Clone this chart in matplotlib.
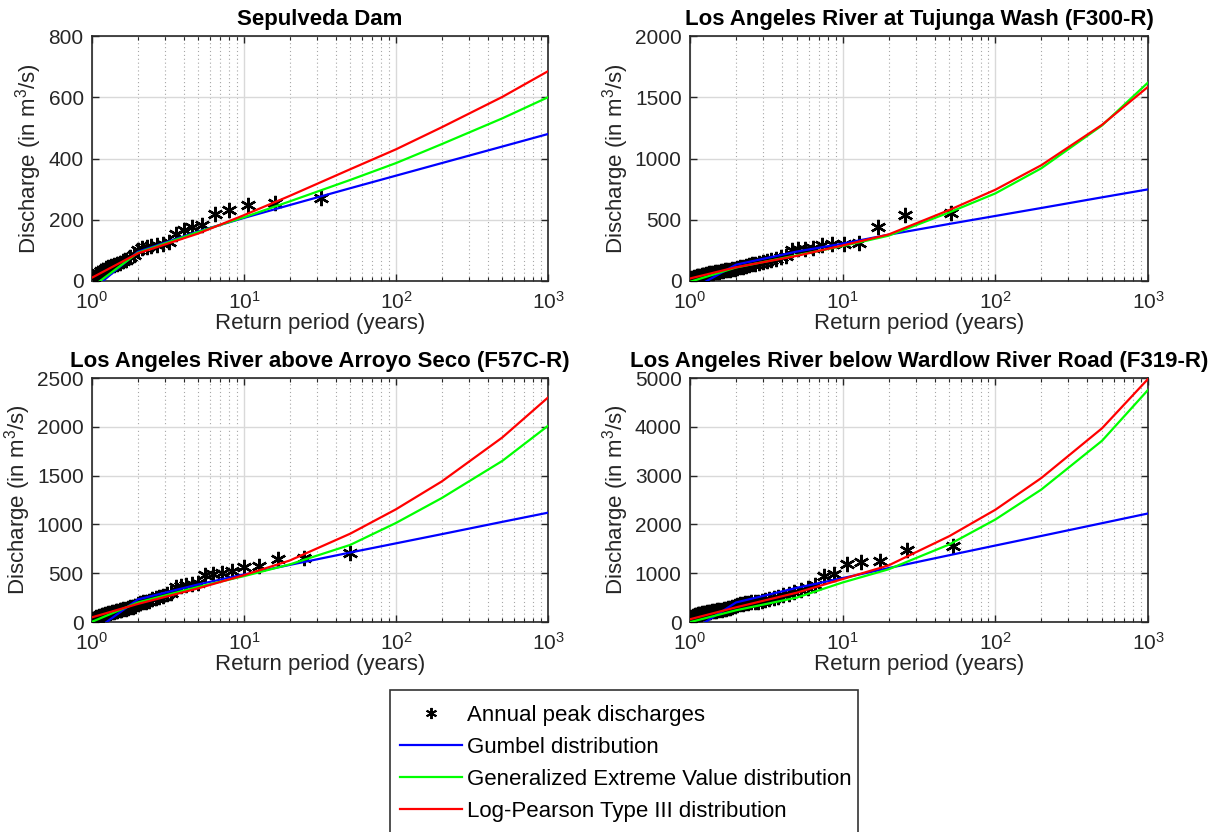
import matplotlib
matplotlib.use("Agg")
import matplotlib.pyplot as plt
from matplotlib.lines import Line2D
from matplotlib.patches import Rectangle
from matplotlib.ticker import LogLocator, FixedLocator, NullFormatter

plt.rcParams['font.family'] = ['Liberation Sans', 'DejaVu Sans']
plt.rcParams['mathtext.fontset'] = 'custom'
plt.rcParams['mathtext.rm'] = 'Liberation Sans'
plt.rcParams['mathtext.it'] = 'Liberation Sans:italic'

# return periods at which the fitted distributions are drawn
T_fit = [1.01, 2, 5, 10, 20, 50, 100, 200, 500, 1000]

# ---- Sepulveda Dam
sep_T = [32.0, 16.0, 10.67, 8.0, 6.4, 5.33, 4.57, 4.0, 3.56, 3.2, 2.91, 2.67, 2.46, 2.29, 2.13, 2.0,
         1.88, 1.78, 1.68, 1.6, 1.52, 1.45, 1.39, 1.33, 1.28, 1.23, 1.19, 1.14, 1.1, 1.07, 1.03]
sep_Q = [272, 256, 249, 231, 220, 184, 176, 168, 152, 128, 122, 118, 115, 112, 108, 100,
         86, 78, 70, 64, 59, 56, 52, 49, 45, 42, 37, 32, 26, 20, 14]
sep_gum = [-28, 95, 162, 206, 248, 303, 344, 385, 439, 480]
sep_gev = [-18, 92, 160, 208, 260, 330, 385, 447, 531, 600]
sep_lp3 = [12, 90, 155, 215, 278, 365, 430, 502, 601, 685]

# ---- Los Angeles River at Tujunga Wash (F300-R)
tuj_T = [51, 25.5, 17, 12.75, 10.2, 8.5, 7.29, 6.38, 5.67, 5.1, 4.64, 4.25, 3.92, 3.64, 3.4, 3.19, 3.0,
         2.83, 2.68, 2.55, 2.43, 2.32, 2.22, 2.13, 2.04, 1.96, 1.89, 1.82, 1.76, 1.7, 1.65, 1.59, 1.55,
         1.5, 1.46, 1.42, 1.38, 1.34, 1.31, 1.28, 1.24, 1.21, 1.19, 1.16, 1.13, 1.11, 1.09, 1.06, 1.04, 1.02]
tuj_Q = [558, 537, 444, 310, 300, 298, 290, 270, 262, 258, 250, 205, 192, 182, 172, 163, 156,
         150, 142, 136, 129, 123, 117, 111, 106, 101, 97, 93, 89, 86, 83, 80, 77,
         74, 71, 68, 65, 62, 59, 56, 53, 50, 47, 44, 41, 38, 35, 32, 28, 22]
tuj_gum = [-73, 133, 240, 305, 378, 466, 531, 596, 683, 748]
tuj_gev = [-5, 110, 210, 285, 370, 560, 715, 920, 1270, 1620]
tuj_lp3 = [22, 112, 205, 290, 380, 580, 745, 945, 1275, 1585]

# ---- Los Angeles River above Arroyo Seco (F57C-R)
arr_T = [50, 25, 16.67, 12.5, 10, 8.33, 7.14, 6.25, 5.56, 5.0, 4.55, 4.17, 3.85, 3.57, 3.33, 3.13,
         2.94, 2.78, 2.63, 2.5, 2.38, 2.27, 2.17, 2.08, 2.0, 1.92, 1.85, 1.79, 1.72, 1.67, 1.61, 1.56,
         1.52, 1.47, 1.43, 1.39, 1.35, 1.32, 1.28, 1.25, 1.22, 1.19, 1.16, 1.14, 1.11, 1.09, 1.06, 1.04, 1.02]
arr_Q = [711, 660, 645, 577, 560, 525, 505, 495, 480, 400, 385, 375, 365, 355, 300, 285,
         270, 258, 245, 232, 220, 210, 200, 190, 180, 165, 158, 150, 143, 137, 131, 125,
         120, 114, 109, 104, 99, 94, 89, 84, 79, 74, 70, 65, 60, 55, 49, 43, 35]
arr_gum = [-103, 231, 385, 487, 585, 712, 806, 900, 1026, 1120]
arr_gev = [5, 200, 360, 470, 590, 790, 1015, 1270, 1650, 2010]
arr_lp3 = [50, 185, 345, 480, 630, 905, 1155, 1440, 1890, 2300]

# ---- Los Angeles River below Wardlow River Road (F319-R)
war_T = [53, 26.5, 17.67, 13.25, 10.6, 8.83, 7.57, 6.63, 5.89, 5.3, 4.82, 4.42, 4.08, 3.79, 3.53,
         3.31, 3.12, 2.94, 2.79, 2.65, 2.52, 2.41, 2.3, 2.21, 2.12, 2.04, 1.96, 1.89, 1.83, 1.77,
         1.71, 1.66, 1.61, 1.56, 1.51, 1.47, 1.43, 1.39, 1.36, 1.33, 1.29, 1.26, 1.23, 1.2, 1.18,
         1.15, 1.13, 1.1, 1.08, 1.06, 1.04, 1.02]
war_Q = [1555, 1470, 1250, 1230, 1190, 993, 944, 760, 700, 650, 610, 580, 550, 520, 490,
         470, 450, 435, 420, 410, 400, 390, 380, 370, 360, 350, 320, 300, 290, 280,
         270, 262, 255, 248, 240, 232, 225, 218, 210, 203, 196, 190, 183, 176, 170,
         163, 156, 148, 140, 130, 118, 100]
war_gum = [-194, 400, 700, 900, 1105, 1369, 1567, 1763, 2025, 2224]
war_gev = [0, 240, 500, 810, 1080, 1590, 2100, 2714, 3714, 4755]
war_lp3 = [60, 300, 600, 880, 1160, 1760, 2300, 2950, 3970, 4980]

panels = [
    ("Sepulveda Dam", sep_T, sep_Q, sep_gum, sep_gev, sep_lp3, 800, 200),
    ("Los Angeles River at Tujunga Wash (F300-R)", tuj_T, tuj_Q, tuj_gum, tuj_gev, tuj_lp3, 2000, 500),
    ("Los Angeles River above Arroyo Seco (F57C-R)", arr_T, arr_Q, arr_gum, arr_gev, arr_lp3, 2500, 500),
    ("Los Angeles River below Wardlow River Road (F319-R)", war_T, war_Q, war_gum, war_gev, war_lp3, 5000, 1000),
]

W, H = 1220, 832
# axes boxes in pixels: left, right, top, bottom
boxes = [(92, 548, 36, 281), (690, 1148, 36, 281), (92, 548, 378, 622), (690, 1148, 378, 622)]

star = (6, 2, 0)
fs = 16

fig = plt.figure(figsize=(W / 100, H / 100), dpi=100)

for (title, pt_T, pt_Q, gum, gev, lp3, ymax, ystep), (l, r, t, b) in zip(panels, boxes):
    ax = fig.add_axes([l / W, 1 - b / H, (r - l) / W, (b - t) / H])
    ax.plot(pt_T, pt_Q, linestyle='none', marker=star, color='k', markersize=11, markeredgewidth=1.7, zorder=3)
    ax.plot(T_fit, gum, color=(0, 0, 1), lw=1.6, zorder=4)
    ax.plot(T_fit, gev, color=(0, 1, 0), lw=1.6, zorder=4)
    ax.plot(T_fit, lp3, color=(1, 0, 0), lw=1.6, zorder=4)
    ax.set_xscale('log')
    ax.set_xlim(1, 1000)
    ax.set_ylim(0, ymax)
    ax.yaxis.set_major_locator(FixedLocator(list(range(0, ymax + 1, ystep))))
    ax.xaxis.set_major_locator(FixedLocator([1, 10, 100, 1000]))
    ax.xaxis.set_minor_locator(LogLocator(base=10, subs=range(2, 10)))
    ax.xaxis.set_minor_formatter(NullFormatter())
    ax.set_xticklabels([r'$10^0$', r'$10^1$', r'$10^2$', r'$10^3$'])
    ax.grid(True, which='major', color='0.85', lw=1.0, zorder=0)
    ax.grid(True, which='minor', axis='x', color='0.65', lw=0.8, linestyle=(0, (1, 2.5)), zorder=0)
    ax.set_axisbelow(True)
    ax.tick_params(which='both', direction='in', top=True, right=True, labelsize=15,
                   colors='0.15', labelcolor='0.15')
    ax.tick_params(which='major', length=5, width=1)
    ax.tick_params(which='minor', length=3, width=0.8)
    ax.tick_params(axis='x', which='major', pad=7)
    ax.tick_params(axis='y', which='major', pad=6)
    for s in ax.spines.values():
        s.set_color('0.15')
        s.set_linewidth(1.2)
    ax.set_title(title, fontsize=16, fontweight='bold', pad=8)
    ax.set_xlabel('Return period (years)', fontsize=fs, color='0.15', labelpad=0)
    ax.set_ylabel(r'Discharge (in m$^3$/s)', fontsize=fs, color='0.15', labelpad=3)

handles = [
    Line2D([], [], linestyle='none', marker=star, color='k', markersize=8, markeredgewidth=1.4),
    Line2D([], [], color=(0, 0, 1), lw=1.6),
    Line2D([], [], color=(0, 1, 0), lw=1.6),
    Line2D([], [], color=(1, 0, 0), lw=1.6),
]
labels = ['Annual peak discharges', 'Gumbel distribution',
          'Generalized Extreme Value distribution', 'Log-Pearson Type III distribution']
fig.legend(handles, labels, loc='upper left', bbox_to_anchor=(400 / W, 1 - 705 / H),
           borderaxespad=0, borderpad=0, fontsize=fs, frameon=False,
           handlelength=2.8, handletextpad=0.2, labelspacing=0.49)
# legend box, running off the bottom edge like in the original figure
fig.patches.append(Rectangle((390 / W, -0.02), (858 - 390) / W, 0.02 + 1 - 690 / H,
                             transform=fig.transFigure, fill=False, ec='0.2', lw=1.2))

fig.savefig('out.png', dpi=100)
